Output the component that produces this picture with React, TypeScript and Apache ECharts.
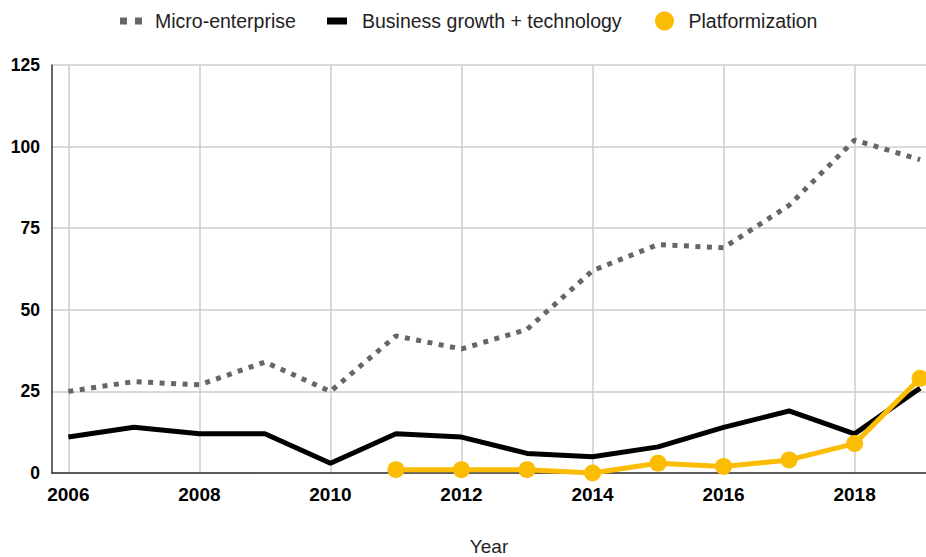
import React, { useEffect, useRef } from "react";
import * as echarts from "echarts";

const years = [2006, 2007, 2008, 2009, 2010, 2011, 2012, 2013, 2014, 2015, 2016, 2017, 2018, 2019];
const microEnterprise = [25, 28, 27, 34, 25, 42, 38, 44, 62, 70, 69, 82, 102, 96];
const businessGrowth = [11, 14, 12, 12, 3, 12, 11, 6, 5, 8, 14, 19, 12, 26];
const platformYears = [2011, 2012, 2013, 2014, 2015, 2016, 2017, 2018, 2019];
const platformization = [1, 1, 1, 0, 3, 2, 4, 9, 29];
const xTicks = [2006, 2008, 2010, 2012, 2014, 2016, 2018];
const yTicks = [0, 25, 50, 75, 100, 125];

const FONT = "'Liberation Sans', Arial, sans-serif";

export default function App() {
  const ref = useRef<HTMLDivElement>(null);
  useEffect(() => {
    if (!ref.current) return;
    const chart = echarts.init(ref.current, null, { renderer: "svg" });
    const pair = (xs: number[], ys: number[]) => xs.map((x, i) => [x, ys[i]]);
    const legendText = { fontFamily: FONT, fontSize: 19.5, color: "#222" };
    chart.setOption({
      animation: false,
      backgroundColor: "#fff",
      textStyle: { fontFamily: FONT },
      legend: [
        {
          data: [{ name: "Micro-enterprise", icon: "path://M0,0h7v7h-7z M15,0h7v7h-7z" }],
          left: 120, top: 11, padding: 0, itemWidth: 22, itemHeight: 7,
          textStyle: { ...legendText, padding: [0, 0, 0, 8] },
        },
        {
          data: [{ name: "Business growth + technology", icon: "rect" }],
          left: 327, top: 11, padding: 0, itemWidth: 20, itemHeight: 7,
          textStyle: { ...legendText, padding: [0, 0, 0, 10] },
        },
        {
          data: [{ name: "Platformization", icon: "circle" }],
          left: 655, top: 11, padding: 0, itemWidth: 20, itemHeight: 19,
          textStyle: { ...legendText, padding: [0, 0, 0, 9] },
        },
      ],
      grid: { left: 52, right: 0, top: 65, bottom: 84, containLabel: false, outerBoundsMode: "none" },
      xAxis: {
        type: "value",
        min: 2005.75,
        max: 2019.09,
        name: "Year",
        nameLocation: "middle",
        nameGap: 64,
        nameTextStyle: { fontFamily: FONT, fontSize: 19, color: "#222" },
        axisLine: { show: true, lineStyle: { color: "#333", width: 1.5 } },
        axisTick: { show: false, customValues: xTicks },
        axisLabel: {
          customValues: xTicks,
          formatter: (v: number) => String(v),
          fontFamily: FONT, fontSize: 19, fontWeight: "bold", color: "#000", margin: 12,
        },
        splitLine: { show: true, lineStyle: { color: "#ccc", width: 1.5 } },
      },
      yAxis: {
        type: "value",
        min: 0,
        max: 125,
        interval: 25,
        axisLine: { show: true, lineStyle: { color: "#333", width: 1.5 } },
        axisTick: { show: false },
        axisLabel: {
          formatter: (v: number) => (yTicks.includes(v) ? String(v) : ""),
          fontFamily: FONT, fontSize: 17.5, fontWeight: "bold", color: "#000", margin: 12,
        },
        splitLine: { show: true, lineStyle: { color: "#ccc", width: 1.5 } },
      },
      series: [
        {
          name: "Micro-enterprise",
          type: "line",
          data: pair(years, microEnterprise),
          symbol: "none",
          color: "#666",
          lineStyle: { color: "#666", width: 5, type: [5, 6.5], cap: "butt" },
        },
        {
          name: "Business growth + technology",
          type: "line",
          data: pair(years, businessGrowth),
          symbol: "none",
          color: "#000",
          lineStyle: { color: "#000", width: 5 },
        },
        {
          name: "Platformization",
          type: "line",
          data: pair(platformYears, platformization),
          symbol: "circle",
          symbolSize: 17,
          color: "#fbbc04",
          itemStyle: { color: "#fbbc04" },
          lineStyle: { color: "#fbbc04", width: 5 },
          clip: false,
        },
      ],
    });
    return () => chart.dispose();
  }, []);
  return (
    <div
      ref={ref}
      style={{ position: "absolute", left: 0, top: 0, width: 926, height: 557 }}
    />
  );
}
